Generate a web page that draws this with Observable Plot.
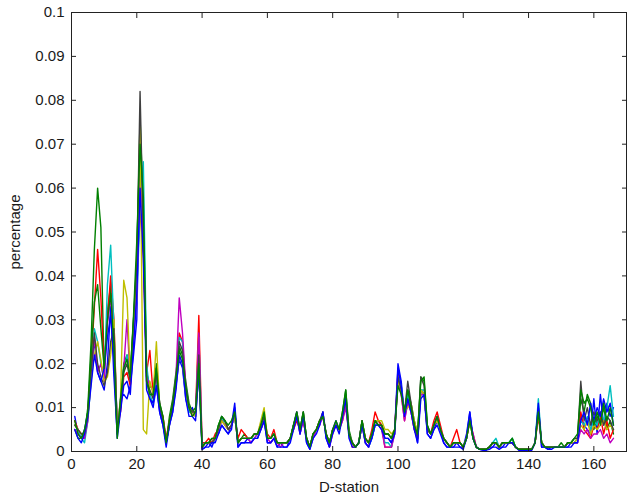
<!DOCTYPE html>
<html><head><meta charset="utf-8">
<script src="https://cdn.jsdelivr.net/npm/d3@7"></script>
<script src="https://cdn.jsdelivr.net/npm/@observablehq/plot@0.6"></script>
<style>body{margin:0;background:#fff;}svg{display:block;}</style>
</head><body><div id="chart"></div>
<script>
// values in thousandths of the y-axis unit, stations 1..166
const blue = [8,4,3,5,9,20,25,18,16,14, 20,33,17,4,12,13,12,15,22,30, 68,50,17,12,10,15,9,6,2,6, 9,15,21,19,12,9,10,8,18,0.5,
 1,2,1,3,4,6,5,4,6,11, 1,2,2,3,2,3,3,5,7,2, 2,3,1,2,1,1,3,6,9,4, 8,2,0.5,3,5,6,9,3,1,5, 7,5,8,13,4,2,1,2,7,2,
 1,3,6,6,6,3,3,2,5,20, 16,8,12,10,6,2,14,13,4,3, 5,7,5,2,1,1,1,2,1,1, 4,9,3,1,0.5,0.3,0.3,1,1,2, 1,1,2,2,2,1,0.5,0.3,0.5,0.5,
 0.5,2,10,1,1,0.5,1,1,1,1, 1,1,2,2,2,8,6,5,4,12, 4,13,6,11,8,10];
const green = [5,3,3,4,10,25,46,60,51,18, 32,38,25,4,11,20,22,18,30,44, 76,55,18,15,14,20,11,8,2,8, 12,18,24,22,16,11,9,10,20,1,
 2,2,3,3,6,8,7,5,6,8, 2,3,4,3,3,4,4,6,8,3, 3,4,2,2,2,2,3,6,8,5, 9,3,1,4,5,7,8,4,2,5, 6,5,9,14,5,2,1,2,7,3,
 2,4,7,7,6,4,4,3,5,16, 14,9,14,11,7,4,17,16,6,4, 6,8,5,3,2,1,2,2,2,1, 3,7,3,1,0.5,0.5,0.5,1,2,2, 1,2,2,2,3,1,0.5,0.5,0.5,0.5,
 0.5,2,9,2,1,1,1,1,1,2, 1,2,2,3,3,12,9,13,11,5, 8,7,10,5,7,4];
const red = [7,5,4,4,8,20,33,46,35,19, 30,40,30,5,9,17,18,15,28,39, 55,45,18,23,13,18,10,8,3,7, 10,15,27,25,14,10,8,9,31,2,
 2,3,2,4,5,7,7,5,6,8, 3,5,4,3,3,4,4,6,8,4, 3,5,2,2,2,2,3,5,7,5, 7,3,1,4,5,7,8,4,2,5, 6,5,7,11,4,1,1,2,6,3,
 2,5,9,7,6,1,1,1,5,18, 13,7,12,9,5,3,14,13,5,4, 7,9,6,3,2,1,3,5,2,1, 3,7,4,1,0.5,0.5,0.5,1,2,2, 1,2,2,2,2,1,0.5,0.5,0.5,0.5,
 0.5,2,8,2,1,1,1,1,1,1, 1,2,2,2,3,9,5,4,3,6, 5,8,4,7,3,5];
const cyan = [6,5,3,2,7,16,28,25,20,16, 38,47,28,6,10,18,22,17,27,35, 55,66,20,13,11,16,10,7,2,6, 10,16,26,25,13,9,9,8,26,1,
 2,2,2,3,5,8,6,5,6,8, 2,3,3,3,3,3,4,6,8,3, 3,4,2,2,2,2,3,6,8,5, 8,3,1,4,5,7,8,4,2,5, 6,5,8,12,4,2,1,2,6,2,
 1,3,6,6,5,2,2,1,4,17, 15,8,13,10,6,3,14,14,5,4, 6,8,5,3,2,1,2,2,2,1, 3,8,3,1,0.5,0.5,0.5,1,2,3, 1,2,2,2,3,1,0.5,0.5,0.5,0.5,
 0.5,2,12,2,1,1,1,1,1,1, 1,2,2,2,3,7,6,8,5,7, 6,9,7,10,15,8];
const magenta = [5,4,3,3,7,17,26,18,20,16, 29,35,26,6,9,19,30,16,26,35, 65,47,17,15,14,17,11,7,2,6, 11,17,35,27,15,10,9,8,27,1,
 2,2,2,3,5,7,6,5,6,8, 2,3,3,3,2,3,4,5,7,3, 2,3,2,1,2,2,3,5,8,4, 7,3,1,3,5,6,8,4,1,4, 6,5,7,10,4,2,1,2,6,2,
 1,4,7,6,5,1,1,1,4,16, 13,7,11,9,5,3,13,13,5,4, 6,8,5,3,2,1,2,2,2,1, 3,7,4,1,0.5,0.5,0.5,1,2,2, 1,2,2,2,2,1,0.5,0.5,0.5,0.5,
 0.5,2,9,2,1,1,1,1,1,1, 1,2,2,2,2,5,4,5,3,4, 4,5,3,4,2,3];
const yellow = [6,5,4,4,8,16,22,25,21,16, 17,22,30,5,12,39,35,17,28,40, 75,5,4,16,13,25,10,7,2,7, 10,15,22,20,13,10,9,8,20,1,
 2,2,2,3,5,7,6,5,6,8, 2,3,3,3,3,4,4,7,10,3, 3,4,2,2,2,2,3,6,8,5, 8,3,1,4,5,7,8,4,2,5, 6,5,8,12,4,2,1,2,7,3,
 2,4,7,7,7,5,5,4,5,16, 14,9,10,11,7,4,14,13,5,4, 6,7,5,3,2,1,2,2,2,1, 3,7,3,1,0.5,0.5,0.5,1,2,2, 1,2,2,2,2,1,0.5,0.5,0.5,0.5,
 0.5,2,9,2,1,1,1,1,1,1, 1,2,2,2,3,6,5,7,4,6, 5,6,7,5,6,5];
const black = [6,5,4,4,8,18,27,20,17,15, 18,25,28,5,10,18,20,16,30,42, 82,50,16,14,12,18,10,7,2,7, 10,16,25,23,14,10,9,9,22,1,
 2,2,2,3,5,8,7,5,6,9, 2,3,3,3,3,4,4,6,8,3, 3,4,2,2,2,2,3,6,9,5, 9,3,1,4,5,7,9,4,2,5, 6,5,8,12,4,2,1,2,7,3,
 2,4,7,6,6,4,4,3,5,17, 14,9,16,11,6,3,17,15,5,4, 6,8,5,3,2,1,2,2,2,1, 3,8,3,1,0.5,0.5,0.5,1,2,2, 1,2,2,2,2,1,0.5,0.5,0.5,0.5,
 0.5,2,10,2,1,1,1,1,1,1, 1,2,2,3,3,16,7,10,6,9, 7,9,6,8,7,5];
const blue2 = [5,3,2,4,8,15,22,18,16,19, 26,31,21,3,9,15,16,13,24,36, 60,44,14,12,11,15,9,6,1,6, 9,14,22,20,12,8,8,7,19,0.5,
 1,1,2,2,4,6,5,4,5,10, 1,2,2,2,2,3,3,5,7,2, 2,3,1,1,1,1,2,5,8,4, 8,2,0.5,3,4,6,9,3,1,4, 6,4,8,12,3,1,1,2,6,2,
 1,3,6,6,5,3,3,2,4,19, 15,8,12,9,5,2,12,13,4,3, 5,6,4,2,1,1,1,1,1,0.5, 3,9,3,1,0.5,0.3,0.3,0.5,1,1, 0.5,1,1,2,2,1,0.3,0.3,0.3,0.3,
 0.3,2,11,1,1,0.5,0.5,1,1,1, 1,1,1,2,2,7,9,6,11,7, 10,8,12,9,11,6];
const green2 = [7,4,3,5,9,22,34,38,28,19, 30,36,24,3,12,19,21,17,31,48, 70,58,16,13,13,19,11,8,2,7, 11,17,23,21,15,10,8,9,20,1,
 2,2,3,3,6,8,7,6,7,9, 2,3,3,3,3,4,4,6,9,3, 3,4,2,2,2,2,3,6,9,5, 9,3,1,4,5,7,8,4,2,5, 7,5,9,14,4,2,1,2,7,3,
 2,4,7,6,6,4,4,3,5,15, 13,9,14,10,6,4,16,17,6,4, 6,8,5,3,2,1,2,2,2,1, 3,7,3,1,0.5,0.5,0.5,1,2,2, 1,2,2,2,3,1,0.5,0.5,0.5,0.5,
 0.5,2,9,2,1,1,1,1,1,1, 1,2,2,3,4,14,11,12,10,6, 9,6,11,7,10,6];

const seriesNames = ["s1","s2","s3","s4","s5","s6","s7","s8","s9"];
const seriesValues = [blue, green, red, cyan, magenta, yellow, black, blue2, green2];
const xTicks = [0,20,40,60,80,100,120,140,160];
const yTicks = [0,10,20,30,40,50,60,70,80,90,100];
const yTickLabels = ["0","0.01","0.02","0.03","0.04","0.05","0.06","0.07","0.08","0.09","0.1"];

const rows = [];
seriesValues.forEach((vals, si) => {
  vals.forEach((v, i) => rows.push({station: i + 1, value: v, series: seriesNames[si]}));
});

const font = "'Liberation Sans', Arial, sans-serif";
const txt = "#1a1a1a";
const plot = Plot.plot({
  width: 633, height: 500,
  marginLeft: 71, marginRight: 7, marginTop: 12, marginBottom: 49,
  style: {fontFamily: font, fontSize: "15px", color: txt, background: "#fff"},
  x: {domain: [0, 170]},
  y: {domain: [0, 100]},
  color: {domain: seriesNames, range: ["#0000ff","#008000","#ff0000","#00bfbf","#bf00bf","#bfbf00","#404040","#0000ff","#008000"]},
  marks: [
    Plot.line(rows, {x: "station", y: "value", z: "series", stroke: "series", strokeWidth: 1.4}),
    Plot.frame({stroke: "#222", strokeWidth: 1}),
    Plot.axisX({anchor: "bottom", ticks: xTicks, tickSize: 0, tickPadding: 7, label: "D-station", labelAnchor: "center", labelArrow: "none", labelOffset: 40, fontSize: 15}),
    Plot.axisX({anchor: "bottom", ticks: xTicks, tickSize: -5, tickFormat: () => "", label: null, stroke: "#222"}),
    Plot.axisX({anchor: "top", ticks: xTicks, tickSize: -5, tickFormat: () => "", label: null, stroke: "#222"}),
    Plot.axisY({anchor: "left", ticks: yTicks, tickSize: 0, tickPadding: 7, tickFormat: (d) => yTickLabels[yTicks.indexOf(d)], label: "percentage", labelAnchor: "center", labelArrow: "none", labelOffset: 62, fontSize: 15}),
    Plot.axisY({anchor: "left", ticks: yTicks, tickSize: -5, tickFormat: () => "", label: null, stroke: "#222"}),
    Plot.axisY({anchor: "right", ticks: yTicks, tickSize: -5, tickFormat: () => "", label: null, stroke: "#222"})
  ]
});
document.getElementById("chart").appendChild(plot);
const bad = seriesValues.map(a => a.length).filter(n => n !== 166);
if (bad.length) { const p = document.createElement("div"); p.textContent = "LEN " + seriesValues.map(a=>a.length).join(","); document.body.prepend(p); }
</script></body></html>
